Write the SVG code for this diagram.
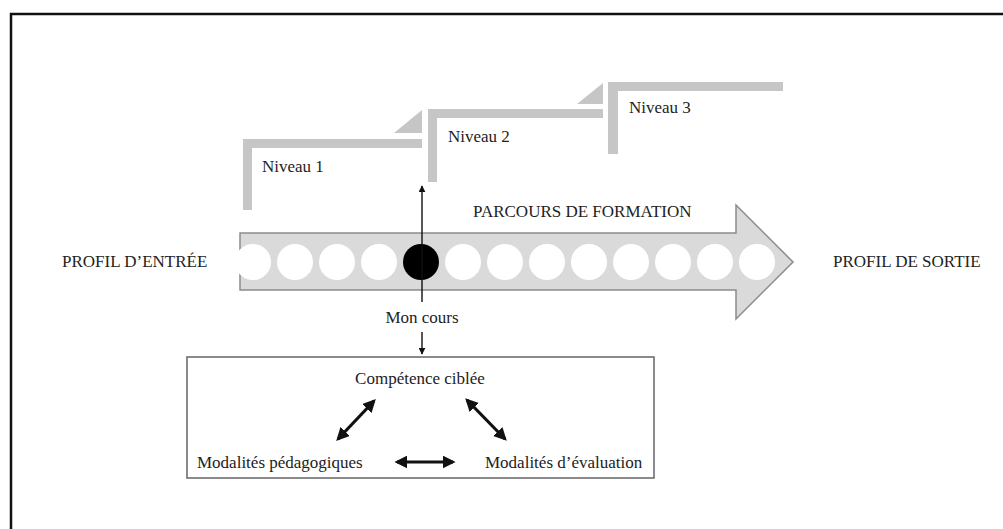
<svg xmlns="http://www.w3.org/2000/svg" width="1003" height="529" viewBox="0 0 1003 529">
  <defs>
    <style>
      text { font-family: "Liberation Serif", "Times New Roman", serif; font-size: 17px; fill: #222; }
      .step { fill: #c6c6c6; }
      .dot { fill: #ffffff; }
      .thin { stroke: #111; stroke-width: 1.4; fill: none; }
      .thick { stroke: #111; stroke-width: 3.2; fill: none; }
    </style>
    <marker id="headSmall" viewBox="0 0 10 10" refX="9" refY="5" markerWidth="7" markerHeight="7" markerUnits="userSpaceOnUse" orient="auto-start-reverse">
      <path d="M0,0 L10,5 L0,10 Z" fill="#111"/>
    </marker>
    <marker id="headBig" viewBox="0 0 10 10" refX="8" refY="5" markerWidth="13" markerHeight="13" markerUnits="userSpaceOnUse" orient="auto-start-reverse">
      <path d="M0,0 L10,5 L0,10 Z" fill="#111"/>
    </marker>
  </defs>

  <rect width="1003" height="529" fill="#ffffff"/>
  <!-- outer frame -->
  <rect x="11" y="14" width="1010" height="540" fill="none" stroke="#111" stroke-width="2.5"/>

  <!-- level steps -->
  <g id="niveau1">
    <rect class="step" x="243" y="139" width="9" height="71"/>
    <rect class="step" x="243" y="139" width="179" height="9"/>
    <polygon class="step" points="394,133 422,110 422,133"/>
    <text x="262" y="172">Niveau 1</text>
  </g>
  <g id="niveau2">
    <rect class="step" x="428" y="109" width="9" height="73"/>
    <rect class="step" x="428" y="109" width="175" height="9"/>
    <polygon class="step" points="577,104 603,83 603,104"/>
    <text x="448" y="142">Niveau 2</text>
  </g>
  <g id="niveau3">
    <rect class="step" x="608" y="82" width="10" height="72"/>
    <rect class="step" x="608" y="82" width="175" height="9"/>
    <text x="629" y="113">Niveau 3</text>
  </g>

  <!-- training path arrow -->
  <g id="parcours">
    <path d="M240,233 H736 V205 L793,262 L736,319 V290 H240 Z" fill="#dadada" stroke="#8c8c8c" stroke-width="1.5"/>
    <circle class="dot" cx="253" cy="262" r="18"/>
    <circle class="dot" cx="295" cy="262" r="18"/>
    <circle class="dot" cx="337" cy="262" r="18"/>
    <circle class="dot" cx="379" cy="262" r="18"/>
    <circle cx="421" cy="262" r="18" fill="#000"/>
    <circle class="dot" cx="463" cy="262" r="18"/>
    <circle class="dot" cx="505" cy="262" r="18"/>
    <circle class="dot" cx="547" cy="262" r="18"/>
    <circle class="dot" cx="589" cy="262" r="18"/>
    <circle class="dot" cx="631" cy="262" r="18"/>
    <circle class="dot" cx="673" cy="262" r="18"/>
    <circle class="dot" cx="715" cy="262" r="18"/>
    <circle class="dot" cx="757" cy="262" r="18"/>
    <text x="473" y="217">PARCOURS DE FORMATION</text>
  </g>

  <g id="profil-entree">
    <text x="62" y="267">PROFIL D’ENTRÉE</text>
  </g>
  <g id="profil-sortie">
    <text x="833" y="267">PROFIL DE SORTIE</text>
  </g>

  <g id="mon-cours">
    <text x="422" y="323" text-anchor="middle">Mon cours</text>
  </g>

  <!-- course box -->
  <g id="cours-detail">
    <rect x="187" y="357" width="467" height="121" fill="#fff" stroke="#6e6e6e" stroke-width="1.6"/>
    <text x="420" y="384" text-anchor="middle">Compétence ciblée</text>
    <text x="197" y="468">Modalités pédagogiques</text>
    <text x="485" y="468">Modalités d’évaluation</text>
  </g>

  <!-- connectors -->
  <g id="connectors">
    <line class="thin" x1="422" y1="302" x2="422" y2="186" marker-end="url(#headSmall)"/>
    <line class="thin" x1="422" y1="332" x2="422" y2="354" marker-end="url(#headSmall)"/>
    <line class="thick" x1="338" y1="439" x2="374" y2="401" marker-start="url(#headBig)" marker-end="url(#headBig)"/>
    <line class="thick" x1="467" y1="400" x2="505" y2="439" marker-start="url(#headBig)" marker-end="url(#headBig)"/>
    <line class="thick" x1="397" y1="462" x2="453" y2="462" marker-start="url(#headBig)" marker-end="url(#headBig)"/>
  </g>
</svg>
